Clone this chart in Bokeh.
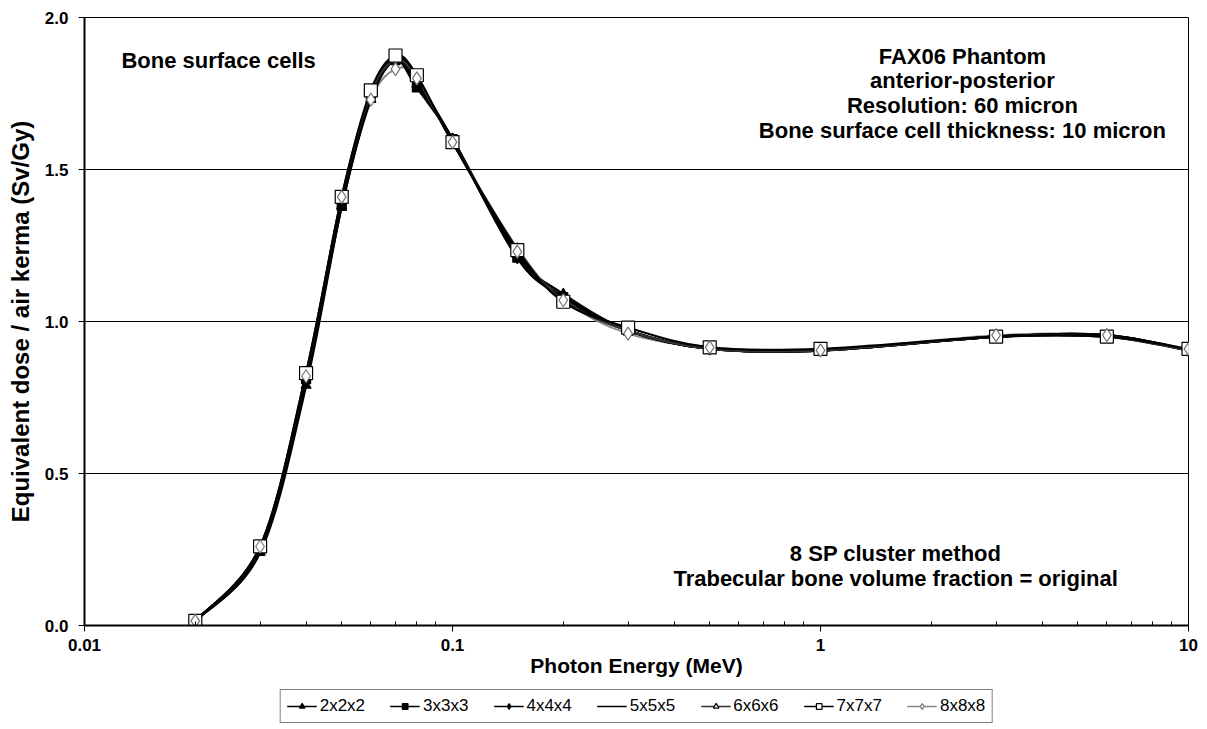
import numpy as np
from bokeh.plotting import figure
from bokeh.layouts import column
from bokeh.models import Label, Legend, LegendItem, FixedTicker, PrintfTickFormatter, Range1d
from bokeh.embed import file_html
from bokeh.resources import INLINE

# ---------------- data ----------------
energy = [0.02, 0.03, 0.04, 0.05, 0.06, 0.07, 0.08, 0.1, 0.15, 0.2, 0.3, 0.5, 1, 3, 6, 10]
s2x2x2 = [0.015, 0.24, 0.79, 1.38, 1.73, 1.86, 1.78, 1.60, 1.22, 1.09, 0.97, 0.91, 0.905, 0.95, 0.955, 0.905]
s3x3x3 = [0.015, 0.245, 0.81, 1.38, 1.74, 1.86, 1.77, 1.60, 1.21, 1.08, 0.97, 0.91, 0.905, 0.95, 0.955, 0.905]
s4x4x4 = [0.015, 0.25, 0.82, 1.40, 1.74, 1.86, 1.79, 1.60, 1.21, 1.08, 0.97, 0.91, 0.905, 0.95, 0.955, 0.905]
s5x5x5 = [0.015, 0.255, 0.82, 1.40, 1.75, 1.87, 1.80, 1.59, 1.23, 1.07, 0.97, 0.91, 0.905, 0.95, 0.95, 0.905]
s6x6x6 = [0.015, 0.26, 0.83, 1.41, 1.75, 1.86, 1.80, 1.59, 1.24, 1.07, 0.97, 0.91, 0.905, 0.95, 0.95, 0.905]
s7x7x7 = [0.015, 0.26, 0.83, 1.41, 1.76, 1.875, 1.81, 1.59, 1.235, 1.065, 0.98, 0.915, 0.91, 0.95, 0.95, 0.91]
s8x8x8 = [0.015, 0.26, 0.82, 1.41, 1.73, 1.83, 1.80, 1.59, 1.23, 1.07, 0.96, 0.915, 0.905, 0.955, 0.955, 0.91]
series_names = ["2x2x2", "3x3x3", "4x4x4", "5x5x5", "6x6x6", "7x7x7", "8x8x8"]
series_values = [s2x2x2, s3x3x3, s4x4x4, s5x5x5, s6x6x6, s7x7x7, s8x8x8]
x_tick_values = [0.01, 0.1, 1, 10]
x_tick_labels = ["0.01", "0.1", "1", "10"]
y_tick_values = [0.0, 0.5, 1.0, 1.5, 2.0]

# ---------------- styles ----------------
styles = [
    dict(marker="triangle", size=10, fill_color="black", line_color="black", lc="black", lw=2.5),
    dict(marker="square", size=9, fill_color="black", line_color="black", lc="black", lw=2.5),
    dict(marker="diamond", size=12, fill_color="black", line_color="black", lc="black", lw=2.5),
    dict(marker="dash", size=10, fill_color="black", line_color="black", lc="black", lw=2.5),
    dict(marker="triangle", size=10, fill_color="white", line_color="black", lc="#333333", lw=2.2),
    dict(marker="square", size=13, fill_color="white", line_color="black", lc="black", lw=2.2),
    dict(marker="diamond", size=13, fill_color="white", line_color="#777777", lc="#888888", lw=2.0),
]
line_draw_order = [6, 0, 1, 2, 3, 4, 5]

FONT = "Liberation Sans"

p = figure(width=1207, height=682, x_axis_type="log", x_range=(0.01, 10), y_range=(0, 2),
           output_backend="svg", toolbar_location=None,
           min_border_left=84, min_border_right=19, min_border_top=17, min_border_bottom=57)
p.background_fill_color = "white"
p.border_fill_color = "white"
p.outline_line_color = "black"
p.outline_line_width = 1

# grid
p.xgrid.grid_line_color = None
p.ygrid.grid_line_color = "black"
p.ygrid.grid_line_width = 1
p.ygrid.ticker = FixedTicker(ticks=y_tick_values)

# axes
minor = [m * d for d in [0.01, 0.1, 1] for m in range(2, 10)]
p.xaxis.ticker = FixedTicker(ticks=x_tick_values, minor_ticks=minor)
p.xaxis.major_label_overrides = {v: l for v, l in zip(x_tick_values, x_tick_labels)}
p.yaxis.ticker = FixedTicker(ticks=y_tick_values)
p.yaxis.formatter = PrintfTickFormatter(format="%.1f")
for ax in (p.xaxis[0], p.yaxis[0]):
    ax.axis_line_color = "black"
    ax.axis_line_width = 2
    ax.major_tick_line_color = "black"
    ax.minor_tick_line_color = "black"
    ax.major_tick_in = 0
    ax.major_tick_out = 6
    ax.major_label_text_font = FONT
    ax.major_label_text_font_style = "bold"
    ax.major_label_text_font_size = "17px"
    ax.major_label_text_color = "black"
    ax.axis_label_text_font = FONT
    ax.axis_label_text_font_style = "bold"
    ax.axis_label_text_color = "black"
p.xaxis.axis_label_text_font_size = "21px"
p.yaxis.axis_label_text_font_size = "24px"
p.xaxis.minor_tick_in = 4
p.xaxis.minor_tick_out = 0
p.yaxis.minor_tick_line_color = None
p.xaxis.major_label_standoff = 7
p.yaxis.major_label_standoff = 10
p.xaxis.axis_label = "Photon Energy (MeV)"
p.yaxis.axis_label = "Equivalent dose / air kerma (Sv/Gy)"
p.xaxis.axis_label_standoff = 0
p.yaxis.axis_label_standoff = 8


def smooth_segments(xs, ys):
    """Catmull-Rom spline (like Excel smoothed lines) as cubic Bezier segments in log-x space."""
    u = np.log10(np.asarray(xs, float))
    y = np.asarray(ys, float)
    n = len(u)
    up = np.concatenate([[u[0]], u, [u[-1]]])
    yp = np.concatenate([[y[0]], y, [y[-1]]])
    cx0 = up[1:n] + (up[2:n + 1] - up[0:n - 1]) / 6
    cy0 = yp[1:n] + (yp[2:n + 1] - yp[0:n - 1]) / 6
    cx1 = up[2:n + 1] - (up[3:n + 2] - up[1:n]) / 6
    cy1 = yp[2:n + 1] - (yp[3:n + 2] - yp[1:n]) / 6
    return dict(x0=10 ** up[1:n], y0=yp[1:n], x1=10 ** up[2:n + 1], y1=yp[2:n + 1],
                cx0=10 ** cx0, cy0=cy0, cx1=10 ** cx1, cy1=cy1)


def draw_series(fig, i, lw=None):
    vals, st = series_values[i], styles[i]
    seg = smooth_segments(energy, vals)
    return fig.bezier(x0=seg["x0"], y0=seg["y0"], x1=seg["x1"], y1=seg["y1"],
                      cx0=seg["cx0"], cy0=seg["cy0"], cx1=seg["cx1"], cy1=seg["cy1"],
                      line_color=st["lc"], line_width=lw if lw else st["lw"])


def draw_markers(fig, i):
    st = styles[i]
    return fig.scatter(x=energy, y=series_values[i], marker=st["marker"], size=st["size"],
                       fill_color=st["fill_color"], line_color=st["line_color"], line_width=1.2)


# main chart: smoothed lines, then markers
for i in line_draw_order:
    draw_series(p, i)
for i in range(len(series_names)):
    draw_markers(p, i)

# annotations
def lab(x, y, text, align="center"):
    p.add_layout(Label(x=x, y=y, text=text, text_font=FONT, text_font_style="bold",
                       text_font_size="22px", text_color="black", text_align=align,
                       text_baseline="middle"))

lab(0.0126, 1.86, "Bone surface cells", align="left")
lab(2.43, 1.872, "FAX06 Phantom")
lab(2.43, 1.793, "anterior-posterior")
lab(2.43, 1.711, "Resolution: 60 micron")
lab(2.43, 1.628, "Bone surface cell thickness: 10 micron")
lab(1.6, 0.237, "8 SP cluster method")
lab(1.6, 0.155, "Trabecular bone volume fraction = original")

# legend strip below the chart (same series, drawn outside its visible range)
lf = figure(width=1207, height=47, x_range=Range1d(100, 200), y_range=Range1d(100, 200),
            output_backend="svg", toolbar_location=None,
            min_border_left=0, min_border_right=0, min_border_top=0, min_border_bottom=0)
lf.axis.visible = False
lf.grid.visible = False
lf.outline_line_color = None
lf.background_fill_color = "white"
lf.border_fill_color = "white"
items = []
for i, name in enumerate(series_names):
    lr = draw_series(lf, i, lw=1.6)
    sr = draw_markers(lf, i)
    items.append(LegendItem(label=name, renderers=[lr, sr]))
legend = Legend(items=items, orientation="horizontal", location="center",
                border_line_color="black", border_line_width=1,
                label_text_font=FONT, label_text_font_size="17px",
                label_text_color="black",
                glyph_width=30, glyph_height=14, label_standoff=3, spacing=25,
                padding=6, margin=0)
lf.add_layout(legend, "center")

layout = column(p, lf, spacing=0)
open("out.html", "w").write(file_html(layout, INLINE))
